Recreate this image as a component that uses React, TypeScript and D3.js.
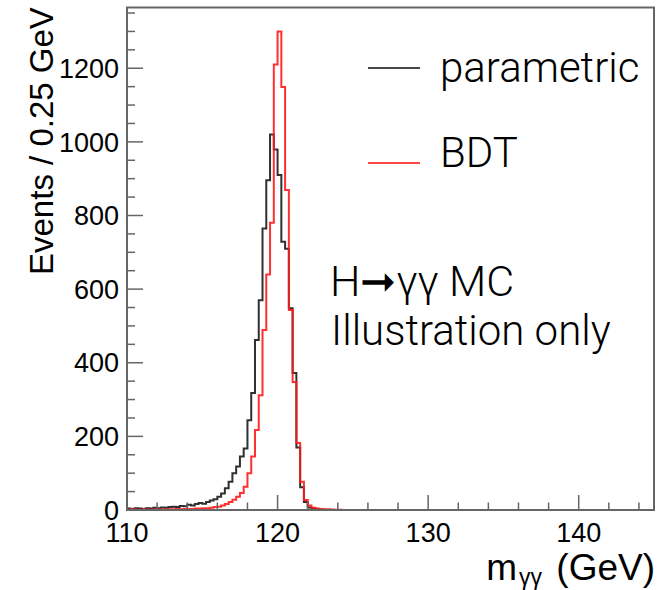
import { useEffect, useRef } from 'react'
import * as d3 from 'd3'

// histogram: 140 bins of 0.25 GeV from 110 to 145
const BIN_START = 110
const BIN_WIDTH = 0.25

// "parametric" (black), one value per bin
const PARAMETRIC = [
  4, 3, 5, 4, 3, 5, 4, 6, 5, 7, 6, 8, 9, 8, 11, 10,
  14, 12, 16, 19, 17, 22, 26, 29, 36, 45, 59, 77, 100, 118, 145, 167,
  244, 318, 462, 570, 765, 896, 1020, 979, 910, 729, 710, 548, 372, 170, 62, 22,
  7, 4, 2, 1, 1, 0, 1, 0, 0, 0, 0, 0, 0, 0, 0, 0,
  0, 0, 0, 0, 0, 0, 0, 0, 0, 0, 0, 0, 0, 0, 0, 0,
  0, 0, 0, 0, 0, 0, 0, 0, 0, 0, 0, 0, 0, 0, 0, 0,
  0, 0, 0, 0, 0, 0, 0, 0, 0, 0, 0, 0, 0, 0, 0, 0,
  0, 0, 0, 0, 0, 0, 0, 0, 0, 0, 0, 0, 0, 0, 0, 0,
  0, 0, 0, 0, 0, 0, 0, 0, 0, 0, 0, 0,
]

// "BDT" (red)
const BDT = [
  1, 2, 1, 1, 2, 1, 1, 2, 2, 1, 2, 2, 2, 3, 2, 3,
  3, 3, 4, 4, 5, 5, 6, 8, 9, 12, 16, 22, 28, 36, 46, 63,
  100, 145, 217, 312, 489, 640, 780, 1210, 1300, 1149, 869, 543, 348, 182, 77, 27,
  12, 6, 4, 3, 2, 2, 1, 1, 1, 0, 0, 0, 0, 0, 0, 0,
  0, 0, 0, 0, 0, 0, 0, 0, 0, 0, 0, 0, 0, 0, 0, 0,
  0, 0, 0, 0, 0, 0, 0, 0, 0, 0, 0, 0, 0, 0, 0, 0,
  0, 0, 0, 0, 0, 0, 0, 0, 0, 0, 0, 0, 0, 0, 0, 0,
  0, 0, 0, 0, 0, 0, 0, 0, 0, 0, 0, 0, 0, 0, 0, 0,
  0, 0, 0, 0, 0, 0, 0, 0, 0, 0, 0, 0,
]

const X_TICKS = [110, 120, 130, 140]
const Y_TICKS = [0, 200, 400, 600, 800, 1000, 1200]

const SERIES = [
  { name: 'parametric', values: PARAMETRIC, color: '#1a1a1a' },
  { name: 'BDT', values: BDT, color: '#ff1a1a' },
]

const W = 667
const H = 590
const FONT = "'Liberation Sans', Arial, Helvetica, sans-serif"
const THIN = "Roboto, 'Open Sans', Lato, sans-serif"

export default function App() {
  const svgRef = useRef<SVGSVGElement>(null)

  useEffect(() => {
    const svg = d3.select(svgRef.current)
    svg.selectAll('*').remove()

    const m = { left: 127, right: 654, top: 7.5, bottom: 510 }
    const x = d3.scaleLinear().domain([110, 145]).range([m.left, m.right])
    const y = d3.scaleLinear().domain([0, 1365]).range([m.bottom, m.top])

    svg.append('clipPath').attr('id', 'plot')
      .append('rect')
      .attr('x', m.left).attr('y', m.top)
      .attr('width', m.right - m.left).attr('height', m.bottom - m.top)

    // histograms as step outlines
    const plot = svg.append('g').attr('clip-path', 'url(#plot)')
    SERIES.forEach((s) => {
      const pts: [number, number][] = s.values.map((v, i) => [BIN_START + i * BIN_WIDTH, v])
      pts.push([BIN_START + s.values.length * BIN_WIDTH, s.values[s.values.length - 1]])
      const line = d3.line<[number, number]>()
        .x((d) => x(d[0]))
        .y((d) => y(d[1]))
        .curve(d3.curveStepAfter)
      plot.append('path')
        .attr('d', line(pts))
        .attr('fill', 'none')
        .attr('stroke', s.color)
        .attr('stroke-width', 2)
        .attr('opacity', 0.9)
    })

    // frame
    svg.append('rect')
      .attr('x', m.left).attr('y', m.top)
      .attr('width', m.right - m.left).attr('height', m.bottom - m.top)
      .attr('fill', 'none').attr('stroke', '#666').attr('stroke-width', 2)

    const ax = svg.append('g').attr('stroke', '#666').attr('stroke-width', 1.5)
    // x ticks: major 10, minor 2
    d3.range(110, 145.01, 2).forEach((t) => {
      const major = t % 10 === 0
      ax.append('line')
        .attr('x1', x(t)).attr('x2', x(t))
        .attr('y1', m.bottom).attr('y2', m.bottom - (major ? 15 : 7.5))
    })
    // y ticks: major 200, minor 50
    d3.range(0, 1365, 50).forEach((t) => {
      const major = t % 200 === 0
      ax.append('line')
        .attr('x1', m.left).attr('x2', m.left + (major ? 16 : 8))
        .attr('y1', y(t)).attr('y2', y(t))
    })

    X_TICKS.forEach((t) => {
      svg.append('text')
        .attr('x', x(t)).attr('y', 542)
        .attr('text-anchor', 'middle')
        .attr('font-family', FONT).attr('font-size', 27)
        .text(t)
    })
    Y_TICKS.forEach((t) => {
      svg.append('text')
        .attr('x', 119).attr('y', y(t))
        .attr('text-anchor', 'end').attr('dy', '0.36em')
        .attr('font-family', FONT).attr('font-size', 27)
        .text(t)
    })

    // axis titles
    svg.append('text')
      .attr('transform', 'translate(53,275) rotate(-90)')
      .attr('font-family', FONT).attr('font-size', 33)
      .text('Events / 0.25 GeV')

    const xt = svg.append('text')
      .attr('x', 655).attr('y', 580)
      .attr('text-anchor', 'end')
      .attr('font-family', FONT).attr('font-size', 37)
    xt.append('tspan').text('m')
    xt.append('tspan').attr('font-size', 23).attr('dx', 2).attr('dy', 5).text('γγ')
    xt.append('tspan').attr('dx', 4).attr('dy', -5).text(' (GeV)')

    // legend
    SERIES.forEach((s, i) => {
      const ly = [68, 163][i]
      svg.append('line')
        .attr('x1', 368).attr('x2', 420)
        .attr('y1', ly).attr('y2', ly)
        .attr('stroke', s.color).attr('stroke-width', 2)
        .attr('opacity', 0.8)
      svg.append('text')
        .attr('x', 440).attr('y', [82, 167][i])
        .attr('font-family', THIN).attr('font-weight', 300).attr('font-size', 42)
        .text(s.name)
    })

    // annotation
    svg.append('text')
      .attr('x', 330).attr('y', 296)
      .attr('font-family', THIN).attr('font-weight', 300).attr('font-size', 43)
      .text('H➞γγ MC')
    svg.append('text')
      .attr('x', 331).attr('y', 345)
      .attr('font-family', THIN).attr('font-weight', 300).attr('font-size', 42)
      .text('Illustration only')
  }, [])

  return (
    <svg
      ref={svgRef}
      width={W}
      height={H}
      style={{ position: 'absolute', left: 0, top: 0, background: '#fff' }}
    />
  )
}
